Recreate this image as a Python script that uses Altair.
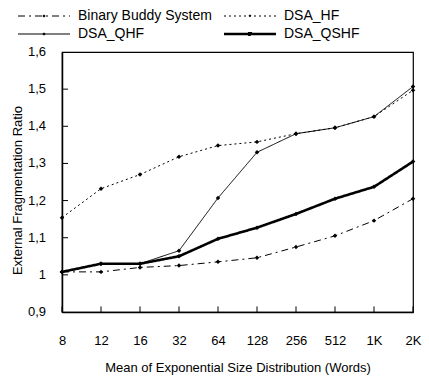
import altair as alt
import pandas as pd

sizes = ["8", "12", "16", "32", "64", "128", "256", "512", "1K", "2K"]
buddy = [1.008, 1.008, 1.02, 1.025, 1.035, 1.046, 1.075, 1.105, 1.146, 1.205]
dsa_hf = [1.154, 1.232, 1.27, 1.318, 1.348, 1.358, 1.38, 1.396, 1.426, 1.497]
dsa_qhf = [1.008, 1.03, 1.03, 1.065, 1.207, 1.33, 1.38, 1.396, 1.426, 1.507]
dsa_qshf = [1.008, 1.03, 1.03, 1.05, 1.097, 1.127, 1.164, 1.205, 1.237, 1.305]
series_names = ["Binary Buddy System", "DSA_HF", "DSA_QHF", "DSA_QSHF"]
y_ticks = [0.9, 1.0, 1.1, 1.2, 1.3, 1.4, 1.5, 1.6]
y_labels = ["0,9", "1", "1,1", "1,2", "1,3", "1,4", "1,5", "1,6"]

rows = []
for name, vals in zip(series_names, [buddy, dsa_hf, dsa_qhf, dsa_qshf]):
    for s, v in zip(sizes, vals):
        rows.append({"size": s, "ratio": v, "series": name})
df = pd.DataFrame(rows)
tick_df = pd.DataFrame({"size": sizes})
ytick_df = pd.DataFrame({"ratio": y_ticks[1:-1]})
ylab_df = pd.DataFrame({"ratio": y_ticks, "label": y_labels})

FONT = "Liberation Sans"
x_scale = alt.Scale(type="point", domain=sizes, padding=0)
y_scale = alt.Scale(domain=[0.9, 1.6], nice=False, zero=False)

x_axis = alt.Axis(title="Mean of Exponential Size Distribution (Words)",
                  labelAngle=0, ticks=False, labelPadding=22,
                  titleY=55, titleBaseline="middle")
y_axis = alt.Axis(title="External Fragmentation Ratio", values=y_ticks,
                  labels=False, ticks=False, titleX=-45, titleY=138,
                  titleBaseline="middle")

legend_symbol = "M-5.2,0L5.2,0M-0.15,-0.15L0.15,-0.15L0.15,0.15L-0.15,0.15Z"

dash_scale = alt.Scale(type="ordinal", domain=series_names,
                       range=[[7, 4, 2, 4], [2, 3], [1, 0], [1, 0]])
width_scale = alt.Scale(type="ordinal", domain=series_names, range=[1, 1, 1, 2.6])

legend = alt.Legend(
    title=None, orient="none", legendX=-25, legendY=-43, columns=2,
    columnPadding=6, rowPadding=4, symbolType=legend_symbol,
    symbolSize=100, symbolStrokeColor="black", symbolFillColor="black",
    labelFont=FONT, labelFontSize=14, labelColor="black", labelOffset=27,
    direction="horizontal",
)

X = alt.X("size:N", scale=x_scale, sort=sizes, axis=x_axis)
Y = alt.Y("ratio:Q", scale=y_scale, axis=y_axis)

lines = alt.Chart(df).mark_line(color="black").encode(
    x=X, y=Y,
    strokeDash=alt.StrokeDash("series:N", scale=dash_scale, legend=legend),
    strokeWidth=alt.StrokeWidth("series:N", scale=width_scale, legend=legend),
    detail="series:N",
)

points = alt.Chart(df).mark_point(filled=True, color="black", size=20,
                                  opacity=1, shape="diamond").encode(x=X, y=Y)

xticks = alt.Chart(tick_df).mark_rule(color="black", strokeWidth=1).encode(
    x=X,
    y=alt.datum(0.9),
    y2=alt.datum(0.915),
)

yticks = alt.Chart(ytick_df).mark_rule(color="black", strokeWidth=1).encode(
    y=Y,
    x=alt.value(0),
    x2=alt.value(6),
)

ylabels = alt.Chart(ylab_df).mark_text(
    align="right", baseline="middle", font=FONT, fontSize=13, color="black"
).encode(
    y=Y,
    x=alt.value(-16),
    text="label:N",
)

chart = alt.layer(lines, points, xticks, yticks, ylabels).properties(
    width=351, height=260,
    autosize="none",
    padding={"left": 62, "top": 52, "right": 16, "bottom": 68},
).configure_view(
    stroke="black", strokeWidth=1.2
).configure_axis(
    grid=False, domainColor="black", domainWidth=1.5,
    labelFont=FONT, labelFontSize=13, labelColor="black",
    titleFont=FONT, titleFontSize=13, titleColor="black", titleFontWeight="normal",
)

chart.save("out.html", embed_options={"renderer": "svg", "actions": False})
